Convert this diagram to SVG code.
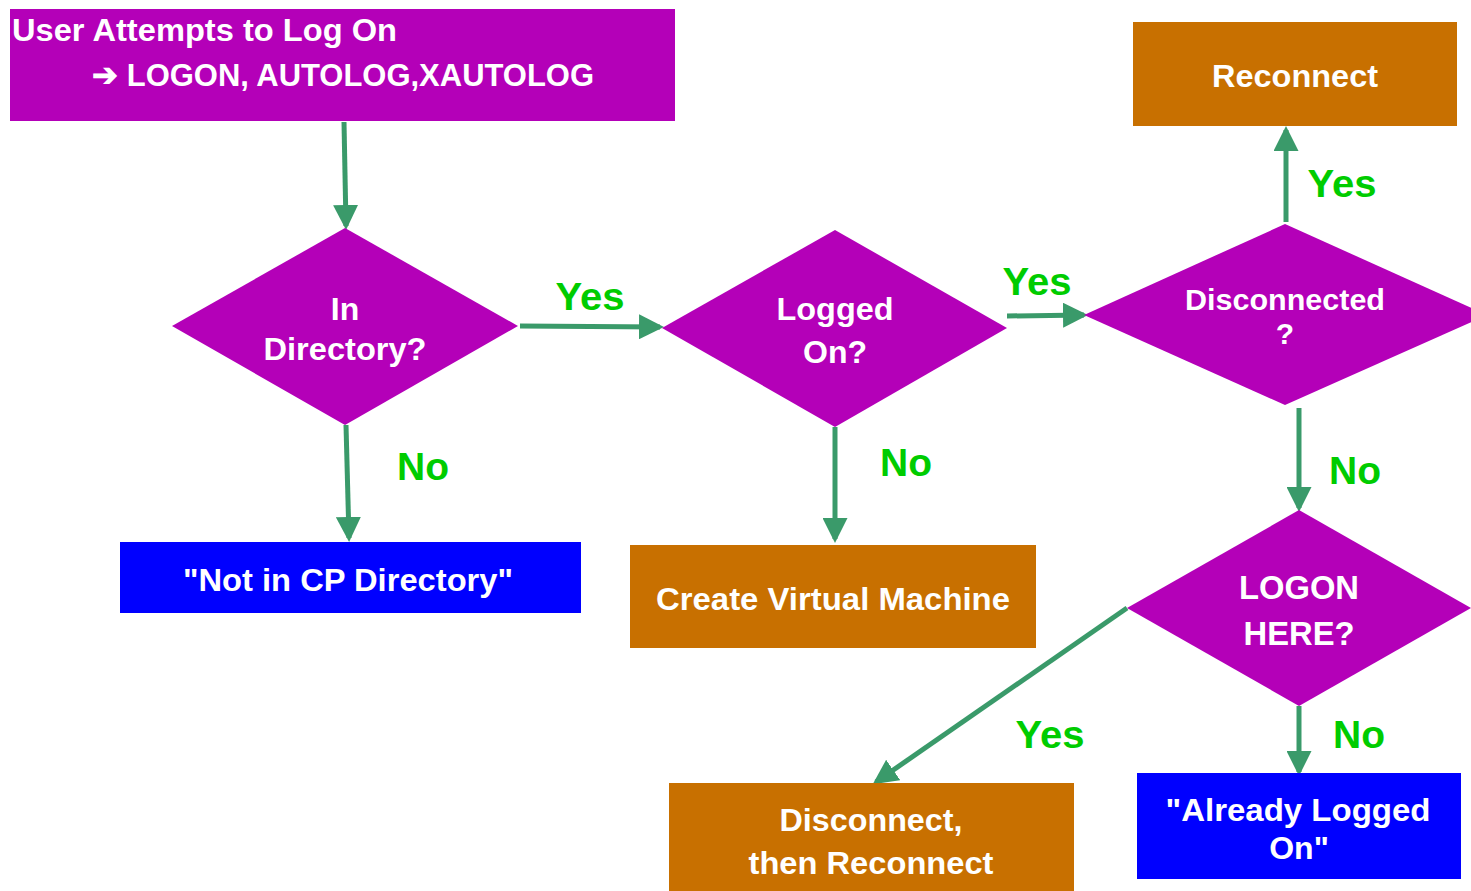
<svg xmlns="http://www.w3.org/2000/svg" width="1471" height="891" viewBox="0 0 1471 891">
<defs>
<marker id="ah" markerWidth="5" markerHeight="5" refX="4.2" refY="2.5" orient="auto" markerUnits="strokeWidth">
<path d="M0,0 L5,2.5 L0,5 z" fill="#3a9a6a"/>
</marker>
<style>
.purple{fill:#b400b8}
.orange{fill:#c87000}
.blue{fill:#0000ff}
.t{font-family:"Liberation Sans",Arial,sans-serif;font-weight:bold;fill:#ffffff;text-anchor:middle}
.lbl{font-family:"Liberation Sans",Arial,sans-serif;font-weight:bold;fill:#00cc00;font-size:39px;text-anchor:middle}
.c{stroke:#3a9a6a;stroke-width:5;fill:none;marker-end:url(#ah)}
</style>
</defs>
<rect width="1471" height="891" fill="#ffffff"/>
<g id="connectors">
<line class="c" x1="344" y1="122" x2="346" y2="226"/>
<line class="c" x1="346" y1="425" x2="349" y2="538"/>
<line class="c" x1="520" y1="326" x2="660" y2="327"/>
<line class="c" x1="835" y1="427" x2="835" y2="539"/>
<line class="c" x1="1007" y1="316" x2="1084" y2="315"/>
<line class="c" x1="1286" y1="222" x2="1286" y2="130"/>
<line class="c" x1="1299" y1="408" x2="1299" y2="508"/>
<line class="c" x1="1127" y1="608" x2="876" y2="782"/>
<line class="c" x1="1299" y1="706" x2="1299" y2="772"/>
</g>
<g id="labels">
<text class="lbl" x="590" y="310" textLength="69" lengthAdjust="spacingAndGlyphs">Yes</text>
<text class="lbl" x="423" y="480" textLength="52" lengthAdjust="spacingAndGlyphs">No</text>
<text class="lbl" x="906" y="476" textLength="52" lengthAdjust="spacingAndGlyphs">No</text>
<text class="lbl" x="1037" y="295" textLength="69" lengthAdjust="spacingAndGlyphs">Yes</text>
<text class="lbl" x="1342" y="197" textLength="69" lengthAdjust="spacingAndGlyphs">Yes</text>
<text class="lbl" x="1355" y="484" textLength="52" lengthAdjust="spacingAndGlyphs">No</text>
<text class="lbl" x="1050" y="748" textLength="69" lengthAdjust="spacingAndGlyphs">Yes</text>
<text class="lbl" x="1359" y="748" textLength="52" lengthAdjust="spacingAndGlyphs">No</text>
</g>
<g id="start">
<rect class="purple" x="10" y="9" width="665" height="112"/>
<text class="t" x="12" y="41" font-size="32" style="text-anchor:start" textLength="385" lengthAdjust="spacingAndGlyphs">User Attempts to Log On</text>
<text class="t" x="92" y="86" font-size="32" style="text-anchor:start" textLength="502" lengthAdjust="spacingAndGlyphs">➔ LOGON, AUTOLOG,XAUTOLOG</text>
</g>
<g id="in-directory">
<polygon class="purple" points="345,228 518,326 345,425 172,326"/>
<text class="t" x="345" y="320" font-size="32">In</text>
<text class="t" x="345" y="360" font-size="32" textLength="163" lengthAdjust="spacingAndGlyphs">Directory?</text>
</g>
<g id="logged-on">
<polygon class="purple" points="835,230 1007,328 835,427 662,328"/>
<text class="t" x="835" y="320" font-size="32" textLength="117" lengthAdjust="spacingAndGlyphs">Logged</text>
<text class="t" x="835" y="363" font-size="32">On?</text>
</g>
<g id="disconnected">
<polygon class="purple" points="1285,224 1487,315 1285,405 1084,315"/>
<text class="t" x="1285" y="310" font-size="30" textLength="200" lengthAdjust="spacingAndGlyphs">Disconnected</text>
<text class="t" x="1285" y="344" font-size="30">?</text>
</g>
<g id="logon-here">
<polygon class="purple" points="1299,510 1471,608 1299,706 1127,608"/>
<text class="t" x="1299" y="599" font-size="33" textLength="120" lengthAdjust="spacingAndGlyphs">LOGON</text>
<text class="t" x="1299" y="645" font-size="33" textLength="111" lengthAdjust="spacingAndGlyphs">HERE?</text>
</g>
<g id="reconnect">
<rect class="orange" x="1133" y="22" width="324" height="104"/>
<text class="t" x="1295" y="87" font-size="32" textLength="166" lengthAdjust="spacingAndGlyphs">Reconnect</text>
</g>
<g id="not-in-dir">
<rect class="blue" x="120" y="542" width="461" height="71"/>
<text class="t" x="348" y="591" font-size="32" textLength="330" lengthAdjust="spacingAndGlyphs">"Not in CP Directory"</text>
</g>
<g id="create-vm">
<rect class="orange" x="630" y="545" width="406" height="103"/>
<text class="t" x="833" y="610" font-size="32" textLength="354" lengthAdjust="spacingAndGlyphs">Create Virtual Machine</text>
</g>
<g id="disconnect-reconnect">
<rect class="orange" x="669" y="783" width="405" height="110"/>
<text class="t" x="871" y="831" font-size="32" textLength="183" lengthAdjust="spacingAndGlyphs">Disconnect,</text>
<text class="t" x="871" y="874" font-size="32" textLength="245" lengthAdjust="spacingAndGlyphs">then Reconnect</text>
</g>
<g id="already-logged">
<rect class="blue" x="1137" y="773" width="324" height="106"/>
<text class="t" x="1298" y="821" font-size="32" textLength="265" lengthAdjust="spacingAndGlyphs">"Already Logged</text>
<text class="t" x="1299" y="859" font-size="32">On"</text>
</g>
</svg>
